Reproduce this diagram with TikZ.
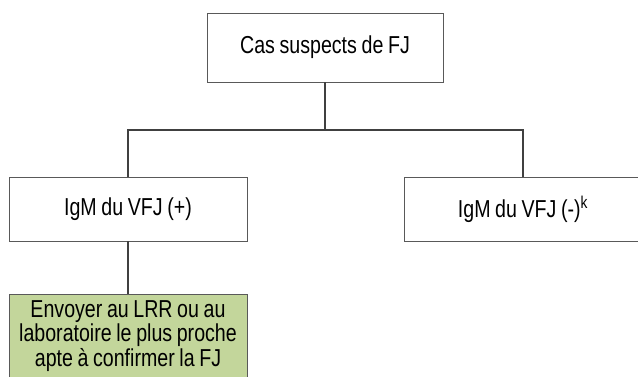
\documentclass[tikz,border=0pt]{standalone}
\usepackage{fontspec}
\setmainfont{Liberation Sans}[FakeStretch=0.8, WordSpace=0.85]
\usetikzlibrary{positioning}
\definecolor{vertclair}{HTML}{C3D69B}

\begin{document}
\begin{tikzpicture}[x=1pt, y=1pt, font=\fontsize{24.5}{24.5}\selectfont]
\tikzstyle{box}=[draw=black!65, line width=0.9pt, inner sep=2pt, align=flush center, fill=white]
\tikzstyle{link}=[draw=black!75, line width=1.3pt]
\useasboundingbox (0,0) rectangle (638,-376);
\clip (0,0) rectangle (638,-376);
\node[box, minimum width=236, minimum height=69] (cas) at (325,-47.5) {Cas suspects de FJ};
\node[box, minimum width=238, minimum height=64] (igmpos) at (128,-209) {IgM du VFJ (+)};
\node[box, minimum width=238, minimum height=64] (igmneg) at (523,-209) {IgM du VFJ (-)\textsuperscript{k}};
\node[box, fill=vertclair, text width=232, anchor=north, inner xsep=3pt, inner ysep=6pt] (envoi) at (128,-294) {Envoyer au LRR ou au\\laboratoire le plus proche\\apte à confirmer la FJ\\[10pt]\mbox{}};
\coordinate (split) at (cas.south |- 0,-130);
\draw[link] (cas.south) -- (split);
\draw[link] (split) -| (igmpos.north);
\draw[link] (split) -| (igmneg.north);
\draw[link] (igmpos.south) -- (envoi.north);
\end{tikzpicture}
\end{document}
